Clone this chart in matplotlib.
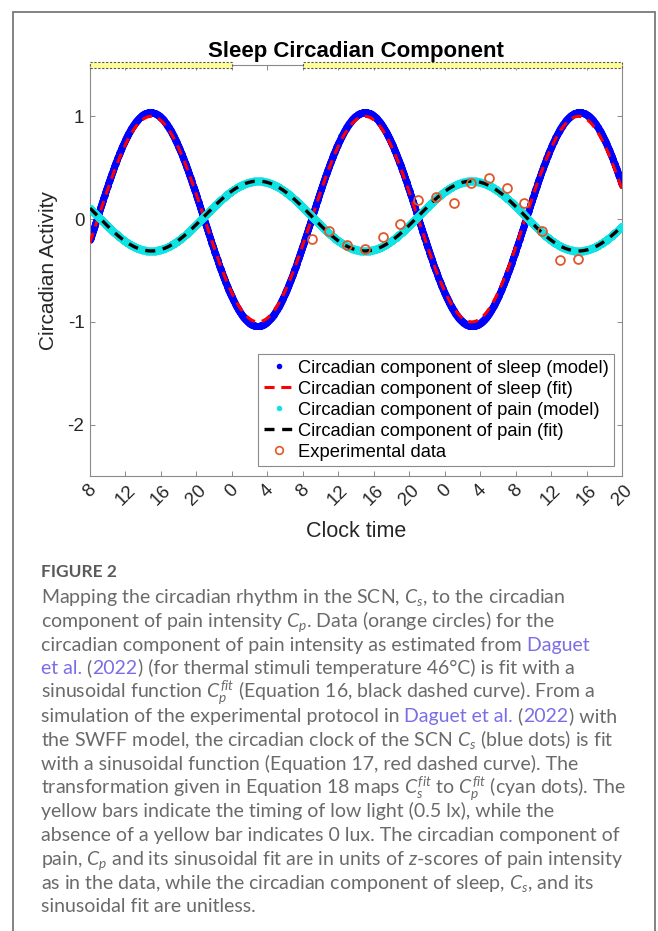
import numpy as np
import matplotlib
matplotlib.use("Agg")
import matplotlib.pyplot as plt
from matplotlib.lines import Line2D
from matplotlib.patches import Rectangle

# ---- data -------------------------------------------------------------
# time axis in hours since midnight of day 1
x_ticks = [8, 12, 16, 20, 24, 28, 32, 36, 40, 44, 48, 52, 56, 60, 64, 68]
x_tick_labels = ["8", "12", "16", "20", "0", "4", "8", "12", "16", "20",
                 "0", "4", "8", "12", "16", "20"]
y_ticks = [-2, -1, 0, 1]

# low-light (0.5 lx) periods, start/end hour
light_start = [8, 32]
light_end = [24, 68]

# SWFF model circadian sleep component (sinusoidal shape)
sleep_model_amp = 1.04
sleep_model_peak = 14.8
sleep_model_period = 24.2

# sinusoidal fit of the sleep component (Equation 17)
sleep_fit_amp = 1.00
sleep_fit_peak = 14.9
sleep_fit_period = 24.1

# linear map from sleep fit to pain component (Equation 18)
pain_map_offset = 0.03
pain_map_gain = 0.34

# sinusoidal fit of the pain data (Equation 16)
pain_fit_offset = 0.03
pain_fit_amp = 0.34
pain_fit_trough = 14.9
pain_fit_period = 24.1

# experimental pain data (z-scores)
exp_hours = [33, 35, 37, 39, 41, 43, 45, 47, 49, 51, 53, 55, 57, 59, 61, 63]
exp_values = [-0.19, -0.12, -0.25, -0.29, -0.17, -0.05, 0.19, 0.22,
              0.16, 0.35, 0.40, 0.30, 0.16, -0.12, -0.40, -0.39]

legend_labels = [
    "Circadian component of sleep (model)",
    "Circadian component of sleep (fit)",
    "Circadian component of pain (model)",
    "Circadian component of pain (fit)",
    "Experimental data",
]

# ---- figure -----------------------------------------------------------
W, H = 658, 931
fig = plt.figure(figsize=(W / 100, H / 100), dpi=100)

chart_font = "Liberation Sans"
text_dark = "#262626"

ax_left, ax_right, ax_top, ax_bottom = 90, 622, 65, 476
ax = fig.add_axes([ax_left / W, 1 - ax_bottom / H,
                   (ax_right - ax_left) / W, (ax_bottom - ax_top) / H])

t = np.arange(x_ticks[0], x_ticks[-1] + 0.001, 0.02)


def wave(hours, amp, peak, period):
    return amp * np.cos(2 * np.pi * (hours - peak) / period)


sleep_model = wave(t, sleep_model_amp, sleep_model_peak, sleep_model_period)
sleep_fit = wave(t, sleep_fit_amp, sleep_fit_peak, sleep_fit_period)
pain_model = pain_map_offset - pain_map_gain * sleep_fit
pain_fit = pain_fit_offset - wave(t, pain_fit_amp, pain_fit_trough, pain_fit_period)

blue = "#0000ff"
red = "#ff0000"
cyan = "#0fe3e3"
orange = "#e2572a"

ax.plot(t, sleep_model, ".", color=blue, ms=7.5, mew=1.0, zorder=2)
ax.plot(t, sleep_fit, "-", color=red, lw=2.2, dashes=(3.3, 2.2), zorder=3)
ax.plot(t, pain_model, ".", color=cyan, ms=8.5, mew=1.0, zorder=4)
ax.plot(t, pain_fit, "-", color="black", lw=2.4, dashes=(3.0, 2.3), zorder=5)
ax.plot(exp_hours, exp_values, "o", mfc="none", mec=orange, ms=6.4, mew=1.3,
        zorder=6)

ax.set_xlim(x_ticks[0], x_ticks[-1])
ax.set_ylim(-2.5, 1.5)
ax.set_xticks(x_ticks)
ax.set_xticklabels(x_tick_labels, rotation=45, ha="center", va="top",
                   fontsize=13.5, family=chart_font, color=text_dark)
ax.set_yticks(y_ticks)
ax.set_yticklabels([str(v) for v in y_ticks], fontsize=13.5,
                   family=chart_font, color=text_dark)
ax.tick_params(direction="in", length=3.8, width=0.7, color="#8a8a8a",
               top=True, right=True, pad=4)
for s in ax.spines.values():
    s.set_color("#8a8a8a")
    s.set_linewidth(0.8)

ax.set_xlabel("Clock time", fontsize=15.5, family=chart_font, color=text_dark,
              labelpad=9)
ax.set_ylabel("Circadian Activity", fontsize=15, family=chart_font,
              color=text_dark, labelpad=7)
ax.set_title("Sleep Circadian Component", fontsize=16, fontweight="bold",
             family=chart_font, color="black", pad=6)

# light bars on the top edge
bar_half = 0.034
for a, b in zip(light_start, light_end):
    ax.add_patch(Rectangle((a, 1.5 - bar_half), b - a, 2 * bar_half,
                           facecolor="#ffff99", edgecolor="#555555",
                           lw=0.8, ls=(0, (2, 1.5)), clip_on=False,
                           zorder=10))

handles = [
    Line2D([], [], ls="none", marker=".", color=blue, ms=8, mew=0),
    Line2D([], [], color=red, lw=2.2, dashes=(3.3, 2.2)),
    Line2D([], [], ls="none", marker=".", color=cyan, ms=8, mew=0),
    Line2D([], [], color="black", lw=2.4, dashes=(3.0, 2.3)),
    Line2D([], [], ls="none", marker="o", mfc="none", mec=orange, ms=5.5,
           mew=1.2),
]
leg = ax.legend(handles, legend_labels, loc="lower right",
                bbox_to_anchor=(0.985, 0.024), borderaxespad=0,
                prop={"family": chart_font, "size": 13.2},
                frameon=True, fancybox=False, framealpha=1,
                edgecolor="#8a8a8a", handlelength=1.7, handletextpad=0.15,
                labelspacing=0.22, borderpad=0.3)
leg.get_frame().set_linewidth(0.8)
for txt in leg.get_texts():
    txt.set_color("black")

# ---- outer frame ------------------------------------------------------
fig.add_artist(Rectangle((13 / W, -0.05), (655 - 13) / W, 1 - 12 / H + 0.05,
                         transform=fig.transFigure, fill=False,
                         edgecolor="#7a7a7a", lw=1.3))

# ---- caption ----------------------------------------------------------
plt.rcParams["mathtext.fontset"] = "custom"
plt.rcParams["mathtext.rm"] = "Lato"
plt.rcParams["mathtext.it"] = "Lato:italic"

cap_font = "Lato"
cap_size = 14.0
gray = "#6a6a6a"
link = "#7a6ee6"

fig.text(41 / W, 1 - 577 / H, "FIGURE 2", family=cap_font, fontsize=12.5,
         fontweight="bold", color="#5a5a5a", va="baseline")

caption_lines = [
    [("Mapping the circadian rhythm in the SCN, $C_s$, to the circadian", gray)],
    [("component of pain intensity $C_p$. Data (orange circles) for the", gray)],
    [("circadian component of pain intensity as estimated from", gray),
     (" Daguet", link)],
    [("et al.", link), (" (", gray), ("2022", link),
     (") (for thermal stimuli temperature 46\u00b0C) is fit with a", gray)],
    [("sinusoidal function $C_p^{fit}$ (Equation 16, black dashed curve). From a", gray)],
    [("simulation of the experimental protocol in", gray),
     (" Daguet et al.", link), (" (", gray), ("2022", link), (") with", gray)],
    [("the SWFF model, the circadian clock of the SCN $C_s$ (blue dots) is fit", gray)],
    [("with a sinusoidal function (Equation 17, red dashed curve). The", gray)],
    [("transformation given in Equation 18 maps $C_s^{fit}$ to $C_p^{fit}$ (cyan dots). The", gray)],
    [("yellow bars indicate the timing of low light (0.5 lx), while the", gray)],
    [("absence of a yellow bar indicates 0 lux. The circadian component of", gray)],
    [("pain, $C_p$ and its sinusoidal fit are in units of $z$-scores of pain intensity", gray)],
    [("as in the data, while the circadian component of sleep, $C_s$, and its", gray)],
    [("sinusoidal fit are unitless.", gray)],
]

renderer = fig.canvas.get_renderer()
first_baseline = 603
line_step = 23.8
for i, segments in enumerate(caption_lines):
    x = 41
    y = first_baseline + i * line_step
    for text, color in segments:
        tx = fig.text(x / W, 1 - y / H, text, family=cap_font,
                      fontsize=cap_size, color=color, va="baseline")
        x += tx.get_window_extent(renderer).width

fig.savefig("out.png", dpi=100)
